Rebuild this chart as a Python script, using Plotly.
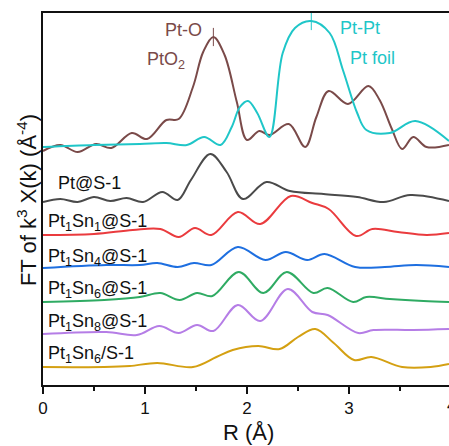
import plotly.graph_objects as go

# R (Å) sample points and stacked FT magnitudes (plotted units)
r_pto2 = [0.00, 0.17, 0.34, 0.52, 0.67, 0.87, 1.02, 1.21, 1.33, 1.47, 1.57, 1.67, 1.78, 1.90, 2.00,
          2.12, 2.22, 2.41, 2.57, 2.68, 2.80, 2.99, 3.19, 3.30, 3.42, 3.52, 3.63, 3.76, 3.98]
y_pto2 = [234, 240, 233, 241, 237, 252, 246, 265, 266, 298, 333, 348, 330, 283, 245,
          254, 250, 261, 238, 268, 294, 281, 299, 285, 256, 236, 248, 238, 240]

r_foil = [0.00, 0.50, 0.95, 1.21, 1.41, 1.58, 1.74, 1.85, 1.93, 2.01, 2.10, 2.22, 2.35, 2.47, 2.63,
          2.81, 2.94, 3.08, 3.17, 3.40, 3.65, 3.98]
y_foil = [238, 240, 241, 242, 240, 248, 240, 258, 278, 284, 272, 248, 332, 357, 364,
          352, 315, 272, 255, 252, 264, 244]

r_pt = [0.00, 0.17, 0.34, 0.50, 0.66, 0.82, 0.98, 1.17, 1.32, 1.45, 1.64, 1.80, 1.96, 2.19, 2.42,
        2.75, 3.08, 3.34, 3.60, 3.98]
y_pt = [183, 186, 183, 188, 184, 187, 183, 193, 185, 205, 231, 213, 186, 203, 194,
        191, 188, 183, 190, 184]

r_sn1 = [0.00, 0.50, 0.88, 1.15, 1.33, 1.49, 1.65, 1.91, 2.13, 2.43, 2.64, 2.80, 3.07, 3.23, 3.48, 3.76, 3.98]
y_sn1 = [150, 151, 155, 156, 148, 157, 150, 173, 161, 189, 182, 176, 149, 156, 153, 150, 152]

r_sn4 = [0.00, 0.62, 0.95, 1.12, 1.32, 1.48, 1.65, 1.91, 2.18, 2.38, 2.59, 2.76, 3.06, 3.35, 3.66, 3.98]
y_sn4 = [117, 120, 120, 122, 118, 122, 120, 138, 125, 133, 125, 131, 118, 118, 120, 118]

r_sn6 = [0.00, 0.60, 0.95, 1.15, 1.34, 1.51, 1.66, 1.92, 2.16, 2.39, 2.65, 2.79, 3.04, 3.17, 3.40, 3.73, 3.98]
y_sn6 = [83, 85, 88, 92, 85, 92, 89, 113, 92, 113, 92, 97, 83, 88, 86, 84, 83]

r_sn8 = [0.00, 0.62, 0.92, 1.14, 1.33, 1.51, 1.67, 1.91, 2.13, 2.40, 2.64, 2.79, 3.09, 3.24, 3.63, 3.98]
y_sn8 = [51, 53, 50, 59, 52, 60, 54, 80, 64, 96, 73, 70, 52, 55, 55, 56]

r_sn6s = [0.00, 0.60, 0.85, 1.12, 1.47, 1.70, 1.86, 2.11, 2.32, 2.50, 2.67, 2.85, 3.05, 3.22, 3.52, 3.80, 3.98]
y_sn6s = [18, 18, 19, 22, 18, 28, 35, 39, 36, 48, 56, 42, 25, 28, 18, 18, 21]

x_ticks = [0, 1, 2, 3, 4]
peak_pto = (1.67, 348)
peak_ptpt = (2.63, 364)

series = [
    (r_pto2, y_pto2, "#7a4a49"),
    (r_foil, y_foil, "#1fc6c8"),
    (r_pt, y_pt, "#4a4a4a"),
    (r_sn1, y_sn1, "#ea3b3e"),
    (r_sn4, y_sn4, "#1e6fe0"),
    (r_sn6, y_sn6, "#2fab63"),
    (r_sn8, y_sn8, "#b57de6"),
    (r_sn6s, y_sn6s, "#d4a012"),
]

FONT = "Liberation Sans, Arial, sans-serif"

fig = go.Figure()
for r, y, c in series:
    fig.add_trace(go.Scatter(x=r, y=y, mode="lines", line=dict(color=c, width=2, shape="spline", smoothing=1.0),
                             showlegend=False, hoverinfo="skip"))

fig.add_trace(go.Scatter(x=[peak_pto[0]], y=[peak_pto[1]], mode="markers",
                         marker=dict(symbol="line-ns", size=13, line=dict(color="#7a4a49", width=1)),
                         showlegend=False, hoverinfo="skip"))
fig.add_trace(go.Scatter(x=[peak_ptpt[0]], y=[peak_ptpt[1]], mode="markers",
                         marker=dict(symbol="line-ns", size=13, line=dict(color="#1fc6c8", width=1)),
                         showlegend=False, hoverinfo="skip"))

labels = [
    ("Pt-O", 1.58, 355, "right", "#7a4a49"),
    ("PtO<sub>2</sub>", 1.41, 325, "right", "#7a4a49"),
    ("Pt-Pt", 2.89, 357, "left", "#1fc6c8"),
    ("Pt foil", 2.99, 327, "left", "#1fc6c8"),
    ("Pt@S-1", 0.13, 202, "left", "#111111"),
    ("Pt<sub>1</sub>Sn<sub>1</sub>@S-1", 0.03, 163, "left", "#111111"),
    ("Pt<sub>1</sub>Sn<sub>4</sub>@S-1", 0.03, 128, "left", "#111111"),
    ("Pt<sub>1</sub>Sn<sub>6</sub>@S-1", 0.03, 96, "left", "#111111"),
    ("Pt<sub>1</sub>Sn<sub>8</sub>@S-1", 0.03, 63, "left", "#111111"),
    ("Pt<sub>1</sub>Sn<sub>6</sub>/S-1", 0.03, 31, "left", "#111111"),
]
for text, x, y, anchor, col in labels:
    fig.add_annotation(x=x, y=y, xref="x", yref="y", text=text, showarrow=False,
                       xanchor=anchor, yanchor="middle", font=dict(size=18, color=col, family=FONT))

fig.add_annotation(x=-0.0394, y=0.497, xref="paper", yref="paper", textangle=-90,
                   text="FT of k<sup>3</sup> X(k) (Å<sup>-4</sup>)", showarrow=False,
                   xanchor="center", yanchor="middle", font=dict(size=22, color="#111111", family=FONT))
fig.add_annotation(x=0.505, y=-0.129, xref="paper", yref="paper", text="R (Å)", showarrow=False,
                   xanchor="center", yanchor="middle", font=dict(size=22, color="#111111", family=FONT))
fig.add_annotation(x=1.005, y=-0.056, xref="paper", yref="paper", text="4", showarrow=False,
                   xanchor="center", yanchor="middle", font=dict(size=17, color="#111111", family=FONT))

fig.update_layout(
    width=449, height=446,
    margin=dict(l=43, r=0, t=13, b=61),
    paper_bgcolor="white", plot_bgcolor="white",
    font=dict(family=FONT, color="#111111"),
    hovermode=False,
    xaxis=dict(range=[0, 3.98], tickvals=x_ticks, ticks="outside", ticklen=7, tickwidth=1.5,
               tickcolor="#111111", showline=True, linecolor="#111111", linewidth=2, mirror=True,
               showgrid=False, zeroline=False, tickfont=dict(size=17, family=FONT),
               minor=dict(dtick=0.5, ticks="outside", ticklen=4, tickwidth=1.5, tickcolor="#111111")),
    yaxis=dict(range=[0, 372], showticklabels=False, ticks="", showline=True, linecolor="#111111",
               linewidth=2, mirror=False, showgrid=False, zeroline=False),
)

fig.write_html("out.html", config={"displayModeBar": False},
               post_script="document.body.style.margin='0';document.body.style.padding='0';"
                           "document.body.style.overflow='hidden';"
                           "document.documentElement.style.overflow='hidden';")
